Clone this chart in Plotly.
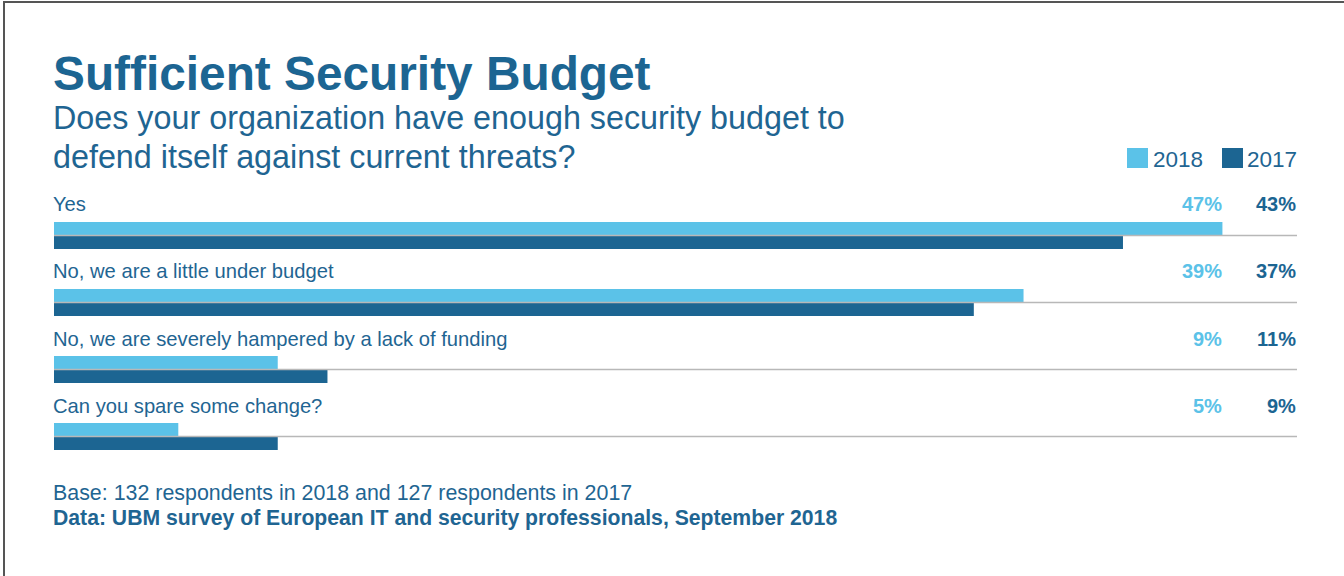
import plotly.graph_objects as go

# Survey answers and shares (percent of respondents)
categories = [
    "Yes",
    "No, we are a little under budget",
    "No, we are severely hampered by a lack of funding",
    "Can you spare some change?",
]
values_2018 = [47, 39, 9, 5]
values_2017 = [43, 37, 11, 9]
years = ["2018", "2017"]

LIGHT = "#5bc2e8"
DARK = "#1c6592"
TEXT = "#1f6592"
FONT = "Liberation Sans, Arial, Helvetica, sans-serif"

W, H = 1344, 576
ML, MR, MT, MB = 54, 47, 202, 106
PW, PH = W - ML - MR, H - MT - MB


def px(x):
    return (x - ML) / PW


def py(y):
    return (H - MB - y) / PH


fig = go.Figure()
fig.add_trace(go.Bar(
    y=categories, x=values_2018, name=years[0], orientation="h",
    marker=dict(color=LIGHT, line=dict(width=0)), showlegend=False,
    hoverinfo="skip",
))
fig.add_trace(go.Bar(
    y=categories, x=values_2017, name=years[1], orientation="h",
    marker=dict(color=DARK, line=dict(width=0)), showlegend=False,
    hoverinfo="skip",
))

shapes = []
annotations = []

# Row separators and per-row labels
for i, (cat, v18, v17) in enumerate(zip(categories, values_2018, values_2017)):
    shapes.append(dict(type="line", xref="x", yref="y", x0=0, x1=50, y0=i, y1=i,
                       line=dict(color="#b8b8b8", width=1.5), layer="above"))
    annotations.append(dict(xref="x", yref="y", x=0, y=cat, xanchor="left",
                            yanchor="middle", yshift=31.5 - 0.4 * i, xshift=-3, showarrow=False,
                            text=cat, font=dict(family=FONT, size=20.2, color=TEXT)))
    annotations.append(dict(xref="x", yref="y", x=47, y=cat, xanchor="right",
                            yanchor="middle", yshift=31.5 - 0.4 * i, xshift=2, showarrow=False,
                            text=f"<b>{v18}%</b>", font=dict(family=FONT, size=20, color=LIGHT)))
    annotations.append(dict(xref="x", yref="y", x=50, y=cat, xanchor="right",
                            yanchor="middle", yshift=31.5 - 0.4 * i, xshift=0.5, showarrow=False,
                            text=f"<b>{v17}%</b>", font=dict(family=FONT, size=20, color=DARK)))

# Titles
annotations.append(dict(xref="paper", yref="paper", x=px(51), y=py(73), xanchor="left",
                        yanchor="middle", showarrow=False,
                        text="<b>Sufficient Security Budget</b>",
                        font=dict(family=FONT, size=47.8, color=DARK)))
annotations.append(dict(xref="paper", yref="paper", x=px(51), y=py(118), xanchor="left",
                        yanchor="middle", showarrow=False,
                        text="Does your organization have enough security budget to",
                        font=dict(family=FONT, size=32.3, color=TEXT)))
annotations.append(dict(xref="paper", yref="paper", x=px(51), y=py(157), xanchor="left",
                        yanchor="middle", showarrow=False,
                        text="defend itself against current threats?",
                        font=dict(family=FONT, size=32.3, color=TEXT)))

# Legend
for (x0, x1, tx, col, yr) in [(1127, 1148, 1151, LIGHT, years[0]), (1222, 1243, 1245, DARK, years[1])]:
    shapes.append(dict(type="rect", xref="paper", yref="paper", x0=px(x0), x1=px(x1),
                       y0=py(168), y1=py(148), fillcolor=col, line=dict(width=0)))
    annotations.append(dict(xref="paper", yref="paper", x=px(tx), y=py(159), xanchor="left",
                            yanchor="middle", showarrow=False, text=yr,
                            font=dict(family=FONT, size=22.5, color=TEXT)))

# Footnotes
annotations.append(dict(xref="paper", yref="paper", x=px(51), y=py(493), xanchor="left",
                        yanchor="middle", showarrow=False,
                        text="Base: 132 respondents in 2018 and 127 respondents in 2017",
                        font=dict(family=FONT, size=21.4, color=TEXT)))
annotations.append(dict(xref="paper", yref="paper", x=px(51), y=py(518), xanchor="left",
                        yanchor="middle", showarrow=False,
                        text="<b>Data: UBM survey of European IT and security professionals, September 2018</b>",
                        font=dict(family=FONT, size=21.2, color=TEXT)))

# Frame lines along the top and left edges
shapes.append(dict(type="line", xref="paper", yref="paper", x0=px(4), x1=px(W),
                   y0=py(2), y1=py(2), line=dict(color="#555555", width=2)))
shapes.append(dict(type="line", xref="paper", yref="paper", x0=px(4), x1=px(4),
                   y0=py(1), y1=py(H), line=dict(color="#555555", width=2)))

fig.update_layout(
    width=W, height=H,
    margin=dict(l=ML, r=MR, t=MT, b=MB, pad=0),
    paper_bgcolor="white", plot_bgcolor="white",
    barmode="group", bargap=0.6, bargroupgap=0,
    xaxis=dict(range=[0, 50], visible=False, fixedrange=True),
    yaxis=dict(type="category", categoryorder="array", categoryarray=categories,
               range=[3.5, -0.5], visible=False, fixedrange=True),
    shapes=shapes, annotations=annotations,
    showlegend=False,
)

fig.write_html("out.html", config={"displayModeBar": False})
